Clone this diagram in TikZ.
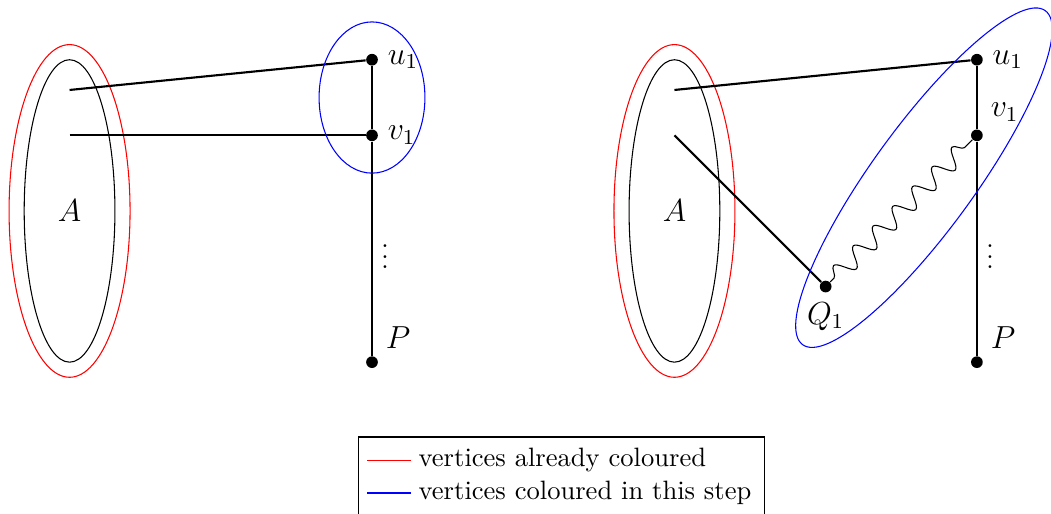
\documentclass[tikz,border=0pt]{standalone}
\usepackage{amsmath}
\usetikzlibrary{positioning, calc, decorations.pathmorphing}
\tikzset{
  vertex/.style={circle, fill=black, inner sep=0pt, minimum size=4.4pt},
  edge/.style={thick, color=black},
  oldset/.style={red, thin},
  newset/.style={blue, thin},
  wavy/.style={thin, decorate, decoration={snake, amplitude=3.5pt,
    segment length=10.5pt, pre length=2pt, post length=1pt}},
  lbl/.style={font=\large}
}
\begin{document}
\begin{tikzpicture}
  \useasboundingbox (-0.92,-2.0) rectangle (12.98,4.79);
  % Left: before the step
  \node[lbl] (A) at (0,2) {$A$};
  \draw (A) ellipse (0.6 and 2);
  \draw[oldset] (A) ellipse (0.8 and 2.2);
  \coordinate (a1) at (0,3.6);
  \coordinate (a2) at (0,3);
  \node[vertex, label={[lbl]right:$u_1$}] (u1) at (4,4) {};
  \node[vertex, label={[lbl]right:$v_1$}] (v1) at (4,3) {};
  \node[vertex, label={[lbl]above right:$P$}] (P) at (4,0) {};
  \node[right] (dots) at (4,1.5) {$\vdots$};
  \draw[edge] (a1) -- (u1);
  \draw[edge] (a2) -- (v1);
  \draw[edge] (u1) -- (v1) -- (P);
  \draw[newset] (4,3.5) ellipse (0.7 and 1);
  % Right: after the step
  \begin{scope}[xshift=8cm]
    \node[lbl] (Ar) at (0,2) {$A$};
    \draw (Ar) ellipse (0.6 and 2);
    \draw[oldset] (Ar) ellipse (0.8 and 2.2);
    \coordinate (b1) at (0,3.6);
    \coordinate (b2) at (0,3);
    \node[vertex, label={[lbl]right:$u_1$}] (u1r) at (4,4) {};
    \node[vertex, label={[lbl]above right:$v_1$}] (v1r) at (4,3) {};
    \node[vertex, label={[lbl]above right:$P$}] (Pr) at (4,0) {};
    \node[vertex, label={[lbl]below:$Q_1$}] (Q1) at (2,1) {};
    \node[right] (dotsr) at (4,1.5) {$\vdots$};
    \draw[edge] (b1) -- (u1r);
    \draw[edge] (b2) -- (Q1);
    \draw[edge] (u1r) -- (v1r) -- (Pr);
    \draw[wavy] (Q1) -- (v1r);
    \draw[newset, rotate around={54:(3.3,2.44)}] (3.3,2.44) ellipse (2.73 and 0.68);
  \end{scope}
  % Legend
  \draw (3.82,-0.99) rectangle (9.19,-2.2);
  \node[right, inner sep=0pt] (old) at (4.61,-1.3) {vertices already coloured};
  \node[right, inner sep=0pt] (new) at (4.61,-1.73) {vertices coloured in this step};
  \draw[oldset] ($(old.west)+(-0.67,0)$) -- ++(0.57,0);
  \draw[newset] ($(new.west)+(-0.67,0)$) -- ++(0.57,0);
\end{tikzpicture}
\end{document}
